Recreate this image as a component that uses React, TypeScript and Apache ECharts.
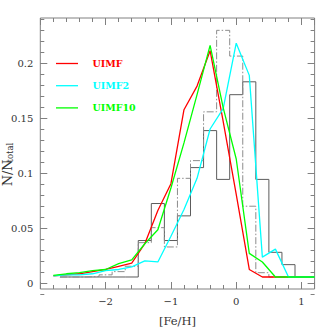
import React, { useEffect, useRef } from "react";
import * as echarts from "echarts";

// ---- data ----
const lineX = [-2.8, -2.6, -2.4, -2.2, -2.0, -1.8, -1.6, -1.4, -1.2, -1.0, -0.8, -0.6, -0.4, -0.2, 0.0, 0.2, 0.4, 0.6, 0.8, 1.0, 1.2];
const uimf = [0.001, 0.002, 0.003, 0.005, 0.007, 0.010, 0.013, 0.031, 0.062, 0.087, 0.156, 0.178, 0.211, 0.145, 0.077, 0.007, 0, 0, 0, 0, 0];
const uimf2 = [0.001, 0.002, 0.002, 0.003, 0.006, 0.007, 0.0095, 0.015, 0.014, 0.038, 0.063, 0.092, 0.138, 0.157, 0.218, 0.188, 0.0185, 0.026, 0, 0, 0];
const uimf10 = [0.0015, 0.003, 0.004, 0.006, 0.007, 0.0125, 0.016, 0.031, 0.044, 0.083, 0.125, 0.17, 0.216, 0.158, 0.11, 0.022, 0.014, 0, 0, 0, 0];

const binLeft = [-2.7, -2.5, -2.3, -2.1, -1.9, -1.7, -1.5, -1.3, -1.1, -0.9, -0.7, -0.5, -0.3, -0.1, 0.1, 0.3, 0.5, 0.7];
const binWidth = 0.2;
const histSolid = [0, 0, 0, 0, 0, 0, 0.034, 0.0685, 0.034, 0.057, 0.102, 0.1365, 0.091, 0.170, 0.182, 0.091, 0.023, 0.0115];
const histDashDot = [0, 0, 0.0005, 0.002, 0.005, 0.010, 0.032, 0.046, 0.028, 0.092, 0.1085, 0.154, 0.230, 0.206, 0.066, 0.004, 0, 0];

const seriesNames = ["UIMF", "UIMF2", "UIMF10"];
const seriesColors = ["#ff0000", "#00ffff", "#00ff00"];
const xAxisTitle = "[Fe/H]";

// ---- layout ----
const X_MIN = -3, X_MAX = 1.2;
const Y_MIN = -0.0112, Y_MAX = 0.2415;
const G_LEFT = 40.3, G_WIDTH = 274.3, G_TOP = 18, G_HEIGHT = 278;
const pxPerY = G_HEIGHT / (Y_MAX - Y_MIN);
const yPix = (v: number) => G_TOP + (Y_MAX - v) * pxPerY;
const FRAME = "#808080";
const LABEL = "#333333";
const SERIF = "'DejaVu Serif', 'Liberation Serif', serif";

function stepData(values: number[]) {
  const pts: number[][] = binLeft.map((x, i) => [x, values[i]]);
  const last = binLeft[binLeft.length - 1] + binWidth;
  pts.push([Math.round(last * 100) / 100, 0]);
  return pts;
}

const minus = (v: number) => (v < 0 ? "\u2212" + Math.abs(v) : String(v));

export default function App() {
  const ref = useRef<HTMLDivElement>(null);
  useEffect(() => {
    document.body.style.margin = "0";
    if (!ref.current) return;
    const chart = echarts.init(ref.current, null, { renderer: "svg" });
    const lineSeries = [uimf, uimf2, uimf10].map((vals, k) => ({
      name: seriesNames[k],
      type: "line",
      xAxisIndex: 0,
      yAxisIndex: 0,
      data: lineX.map((x, i) => [x, vals[i]]),
      symbol: "none",
      lineStyle: { color: seriesColors[k], width: 1.3 },
      itemStyle: { color: seriesColors[k] },
    }));
    const tickStyle = { color: FRAME, width: 1 };
    const noLine = { show: false, onZero: false };
    const baseX = { type: "value", min: X_MIN, max: X_MAX, axisLine: noLine, splitLine: { show: false } };
    const option: any = {
      animation: false,
      grid: [
        { left: G_LEFT, top: G_TOP, width: G_WIDTH, height: G_HEIGHT, show: true, borderColor: FRAME, borderWidth: 1, backgroundColor: "transparent" },
        { left: G_LEFT, top: yPix(0.24), width: G_WIDTH, height: 0.25 * pxPerY },
        { left: G_LEFT, top: yPix(0.2), width: G_WIDTH, height: 0.2 * pxPerY },
      ],
      xAxis: [
        {
          ...baseX, gridIndex: 0, position: "bottom", interval: 1,
          axisTick: { inside: true, length: 7, lineStyle: tickStyle },
          axisLabel: {
            margin: 7, color: LABEL, fontFamily: SERIF, fontSize: 10,
            formatter: (v: number) => (v < -2.5 || Math.abs(v - Math.round(v)) > 1e-6 ? "" : minus(v)),
          },
          name: xAxisTitle, nameLocation: "middle", nameGap: 26,
          nameTextStyle: { color: LABEL, fontFamily: SERIF, fontSize: 11.5 },
        },
        { ...baseX, gridIndex: 0, position: "top", interval: 1, axisTick: { inside: true, length: 7, lineStyle: tickStyle }, axisLabel: { show: false } },
        { ...baseX, gridIndex: 0, position: "bottom", interval: 0.2, axisTick: { inside: true, length: 4, lineStyle: tickStyle }, axisLabel: { show: false } },
        { ...baseX, gridIndex: 0, position: "top", interval: 0.2, axisTick: { inside: true, length: 4, lineStyle: tickStyle }, axisLabel: { show: false } },
        { ...baseX, gridIndex: 1, show: false },
        { ...baseX, gridIndex: 2, show: false },
      ],
      yAxis: [
        { type: "value", gridIndex: 0, min: Y_MIN, max: Y_MAX, show: false, axisLine: noLine, splitLine: { show: false } },
        { type: "value", gridIndex: 1, position: "left", min: -0.01, max: 0.24, interval: 0.01, axisLine: noLine, splitLine: { show: false }, axisTick: { inside: true, length: 4, lineStyle: tickStyle }, axisLabel: { show: false } },
        { type: "value", gridIndex: 1, position: "right", min: -0.01, max: 0.24, interval: 0.01, axisLine: noLine, splitLine: { show: false }, axisTick: { inside: true, length: 4, lineStyle: tickStyle }, axisLabel: { show: false } },
        {
          type: "value", gridIndex: 2, position: "left", min: 0, max: 0.2, interval: 0.05, axisLine: noLine, splitLine: { show: false },
          axisTick: { inside: true, length: 7, lineStyle: tickStyle },
          axisLabel: { margin: 7, color: LABEL, fontFamily: SERIF, fontSize: 10 },
        },
        { type: "value", gridIndex: 2, position: "right", min: 0, max: 0.2, interval: 0.05, axisLine: noLine, splitLine: { show: false }, axisTick: { inside: true, length: 7, lineStyle: tickStyle }, axisLabel: { show: false } },
      ],
      series: [
        {
          name: "hist", type: "line", step: "end", xAxisIndex: 0, yAxisIndex: 0, symbol: "none",
          data: stepData(histSolid), lineStyle: { color: "#5c5c5c", width: 1 },
        },
        {
          name: "histdd", type: "line", step: "end", xAxisIndex: 0, yAxisIndex: 0, symbol: "none",
          data: stepData(histDashDot), lineStyle: { color: "#8c8c8c", width: 1, type: [7, 2, 1.5, 2] },
        },
        ...lineSeries,
      ],
      graphic: [
        ...seriesNames.flatMap((n, k) => {
          const y = 63.5 + k * 22.2;
          return [
            { type: "line", shape: { x1: 56, y1: y, x2: 78, y2: y }, style: { stroke: seriesColors[k], lineWidth: 1.3 } },
            {
              type: "text", x: 92.5, y,
              style: { text: n, fill: seriesColors[k], fontFamily: SERIF, fontSize: 9.5, fontWeight: "bold", textAlign: "left", textVerticalAlign: "middle" },
            },
          ];
        }),
        {
          type: "group", x: 7, y: 162, rotation: Math.PI / 2,
          children: [
            { type: "text", x: -24, y: 0, style: { text: "N/N", fill: LABEL, fontFamily: SERIF, fontSize: 12.5, textAlign: "left", textVerticalAlign: "middle" } },
            { type: "text", x: -0.5, y: 3, style: { text: "total", fill: LABEL, fontFamily: SERIF, fontSize: 8.5, textAlign: "left", textVerticalAlign: "middle" } },
          ],
        },
      ],
    };
    chart.setOption(option);
    return () => chart.dispose();
  }, []);
  return <div ref={ref} style={{ width: 332, height: 332 }} />;
}
